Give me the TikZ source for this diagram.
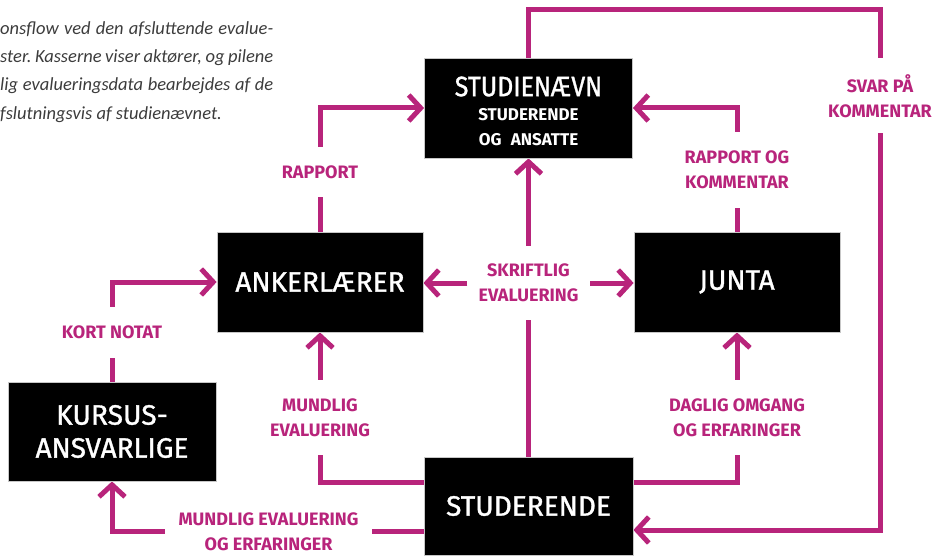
\documentclass[tikz,border=0pt]{standalone}
\usepackage{fontspec}
\usepackage{graphicx}
\setmainfont{Fira Sans}
\newfontfamily\boxfont[FakeBold=1.2]{Fira Sans}
\newfontfamily\capfont{Carlito}
\usetikzlibrary{arrows.meta,backgrounds}
\definecolor{mag}{RGB}{184,36,123}
\definecolor{capgray}{RGB}{60,60,60}
\frenchspacing
\begin{document}
\begin{tikzpicture}[x=1pt,y=-1pt,
  box/.style={fill=black, draw=black!22, line width=0.8pt, text=white, align=center, inner sep=0pt, font=\boxfont\fontsize{28}{33}\selectfont},
  lab/.style={fill=white, text=mag, align=center, inner sep=0pt, font=\bfseries\fontsize{18}{25}\selectfont},
  conn/.style={draw=mag, line width=5pt},
  arr/.style={conn, -{Straight Barb[length=12pt,width=26pt]}},
  captxt/.style={font=\capfont\itshape\fontsize{18.5}{22}\selectfont, text=capgray, inner sep=0pt, anchor=base west}]
\useasboundingbox (0,0) rectangle (945,556);

% caption
\node[captxt] (cap1) at (0,35) {\makebox[273pt][s]{onsflow ved den afsluttende evalue-}};
\node[captxt] (cap2) at (0,63) {\makebox[273pt][s]{ster. Kasserne viser aktører, og pilene}};
\node[captxt] (cap3) at (0,91) {\makebox[273pt][s]{lig evalueringsdata bearbejdes af de}};
\node[captxt] (cap4) at (0,120) {fslutningsvis af studienævnet.};

% boxes
\node[box, minimum width=208pt, minimum height=100pt, text width=200pt] (stud) at (528.5,108)
  {\parindent=0pt\fontsize{28}{24.5}\selectfont\mbox{\scalebox{0.89}[1]{STUDIENÆVN}}\par
   \fontsize{17}{24.5}\selectfont\rmfamily\bfseries\mbox{STUDERENDE}\par\mbox{OG ANSATTE}\par\vspace{-6pt}};
\node[box, minimum width=206pt, minimum height=100pt] (ank) at (320,282) {ANKERLÆRER};
\node[box, minimum width=206pt, minimum height=100pt] (junta) at (737,282) {JUNTA};
\node[box, minimum width=208pt, minimum height=99pt] (kurs) at (112,431.5) {KURSUS-\\ANSVARLIGE};
\node[box, minimum width=209pt, minimum height=98pt] (studr) at (528.5,506) {STUDERENDE};

% labels
\node[lab, minimum width=95pt, minimum height=50pt] (rap) at (320,172) {RAPPORT};
\node[lab, minimum width=160pt, minimum height=76pt] (rok) at (737,170) {RAPPORT OG\\KOMMENTAR};
\node[lab, minimum width=120pt, minimum height=75pt] (svar) at (880,96) {SVAR PÅ\\KOMMENTAR};
\node[lab, minimum width=122pt, minimum height=74pt] (skr) at (528.5,283) {SKRIFTLIG\\EVALUERING};
\node[lab, minimum width=115pt, minimum height=51pt] (kort) at (112,332) {KORT NOTAT};
\node[lab, minimum width=115pt, minimum height=75pt] (mund) at (320,417.5) {MUNDLIG\\EVALUERING};
\node[lab, minimum width=160pt, minimum height=75pt] (dag) at (737,417.5) {DAGLIG OMGANG\\OG ERFARINGER};
\node[lab, minimum width=207pt, minimum height=60pt] (merf) at (268.5,532) {MUNDLIG EVALUERING\\OG ERFARINGER};

\coordinate (topright) at (880,10);

\begin{pgfonlayer}{background}
  \draw[arr] (ank.north) |- (stud.west);
  \draw[arr] (junta.north) |- (stud.east);
  \draw[arr] (stud.north) |- (topright) |- ([yshift=-24pt]studr.east);
  \draw[arr] (studr.north) -- (stud.south);
  \draw[arr] (skr.west) -- (skr.west -| ank.east);
  \draw[arr] (skr.east) -- (skr.east -| junta.west);
  \draw[arr] ([yshift=24pt]studr.west) -| (ank.south);
  \draw[arr] ([yshift=24pt]studr.east) -| (junta.south);
  \draw[arr] ([yshift=-25pt]studr.west) -| (kurs.south);
  \draw[arr] (kurs.north) |- (ank.west);
\end{pgfonlayer}
\end{tikzpicture}
\end{document}
